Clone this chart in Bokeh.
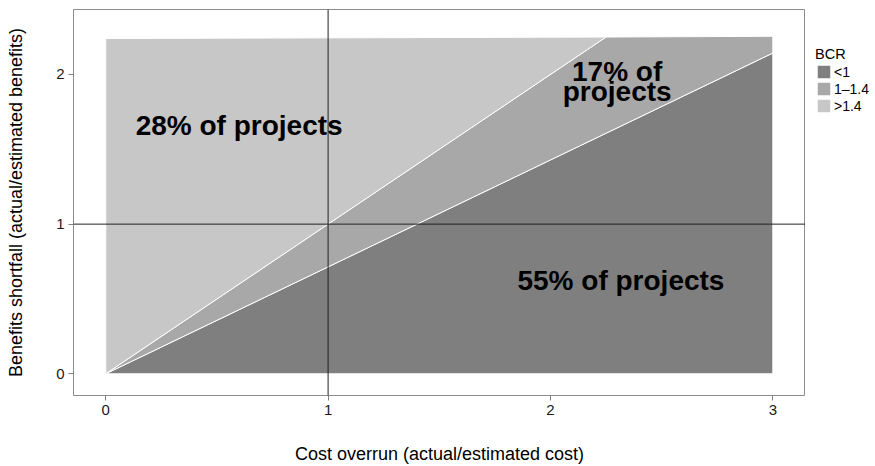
from bokeh.plotting import figure
from bokeh.layouts import row
from bokeh.models import ColumnDataSource, Span, Legend, LegendItem, FixedTicker, Range1d
from bokeh.embed import file_html
from bokeh.resources import INLINE
from bokeh.core.properties import value

# ---- data ----
bcr_classes = ["<1", "1–1.4", ">1.4"]
region_x = [[0, 3, 3], [0, 3, 3, 2.25], [0, 2.25, 0]]
region_y = [[0, 2.143, 0], [0, 2.143, 2.255, 2.25], [0, 2.25, 2.24]]
region_colors = ["#7f7f7f", "#a8a8a8", "#c7c7c7"]

ref_x = 1.0   # cost overrun = 1
ref_y = 1.0   # benefits = 1

label_text = ["28% of projects", "17% of", "projects", "55% of projects"]
label_x = [0.6, 2.3, 2.3, 2.317]
label_y = [1.66, 2.02, 1.888, 0.622]

x_ticks = [0, 1, 2, 3]
y_ticks = [0, 1, 2]

FONT = "Liberation Sans"

p = figure(width=805, height=466, output_backend="svg", toolbar_location=None,
           x_range=Range1d(-0.145, 3.147), y_range=Range1d(-0.145, 2.434),
           min_border_left=73, min_border_right=0, min_border_top=9, min_border_bottom=71,
           x_axis_label="Cost overrun (actual/estimated cost)",
           y_axis_label="Benefits shortfall (actual/estimated benefits)")

src = ColumnDataSource(dict(xs=region_x, ys=region_y, color=region_colors, cls=bcr_classes))
p.patches("xs", "ys", source=src, fill_color="color", line_color="white",
          line_width=1, fill_alpha=1)

p.add_layout(Span(location=ref_x, dimension="height", line_color="#222222", line_width=1))
p.add_layout(Span(location=ref_y, dimension="width", line_color="#222222", line_width=1))

lsrc = ColumnDataSource(dict(x=label_x, y=label_y, t=label_text))
p.text("x", "y", text="t", source=lsrc, text_font=value(FONT), text_font_style="bold",
       text_font_size="28px", text_align="center", text_baseline="alphabetic",
       text_color="black")

p.xgrid.visible = False
p.ygrid.visible = False
p.outline_line_color = "#8c8c8c"
p.outline_line_width = 1
p.background_fill_color = "white"

p.xaxis.ticker = FixedTicker(ticks=x_ticks)
p.yaxis.ticker = FixedTicker(ticks=y_ticks)
for ax in (p.xaxis[0], p.yaxis[0]):
    ax.axis_line_color = None
    ax.major_tick_out = 5
    ax.major_tick_in = 0
    ax.minor_tick_out = 0
    ax.minor_tick_in = 0
    ax.major_tick_line_color = "#7f7f7f"
    ax.major_label_text_font = FONT
    ax.major_label_text_font_size = "15px"
    ax.major_label_text_color = "#1a1a1a"
    ax.axis_label_text_font = FONT
    ax.axis_label_text_font_size = "18px"
    ax.axis_label_text_font_style = "normal"
    ax.axis_label_text_color = "black"
p.xaxis.major_label_standoff = 4
p.yaxis.major_label_standoff = 4
p.xaxis.axis_label_standoff = 26
p.yaxis.axis_label_standoff = 27

# ---- legend panel (a narrow companion figure, same data source) ----
lg = figure(width=70, height=466, output_backend="svg", toolbar_location=None,
            x_range=Range1d(100, 101), y_range=Range1d(100, 101),
            x_axis_type=None, y_axis_type=None,
            min_border_left=10, min_border_top=9, min_border_right=0, min_border_bottom=71)
lg.outline_line_color = None
rl = lg.patches("xs", "ys", source=src, fill_color="color", line_color="white",
                line_width=1, fill_alpha=1)
items = [LegendItem(label=bcr_classes[i], renderers=[rl], index=i) for i in range(3)]
legend = Legend(items=items, title="BCR", location=(0, 281),
                glyph_width=17, glyph_height=17, label_height=17, spacing=0,
                padding=0, margin=0, border_line_color=None, background_fill_alpha=0,
                label_text_font=FONT, label_text_font_size="14px", label_standoff=2,
                title_text_font=FONT, title_text_font_size="14.5px", title_text_font_style="normal",
                title_standoff=1, label_text_color="black", title_text_color="black")
lg.add_layout(legend)

layout = row(p, lg, spacing=0)
open("out.html", "w").write(file_html(layout, INLINE))
